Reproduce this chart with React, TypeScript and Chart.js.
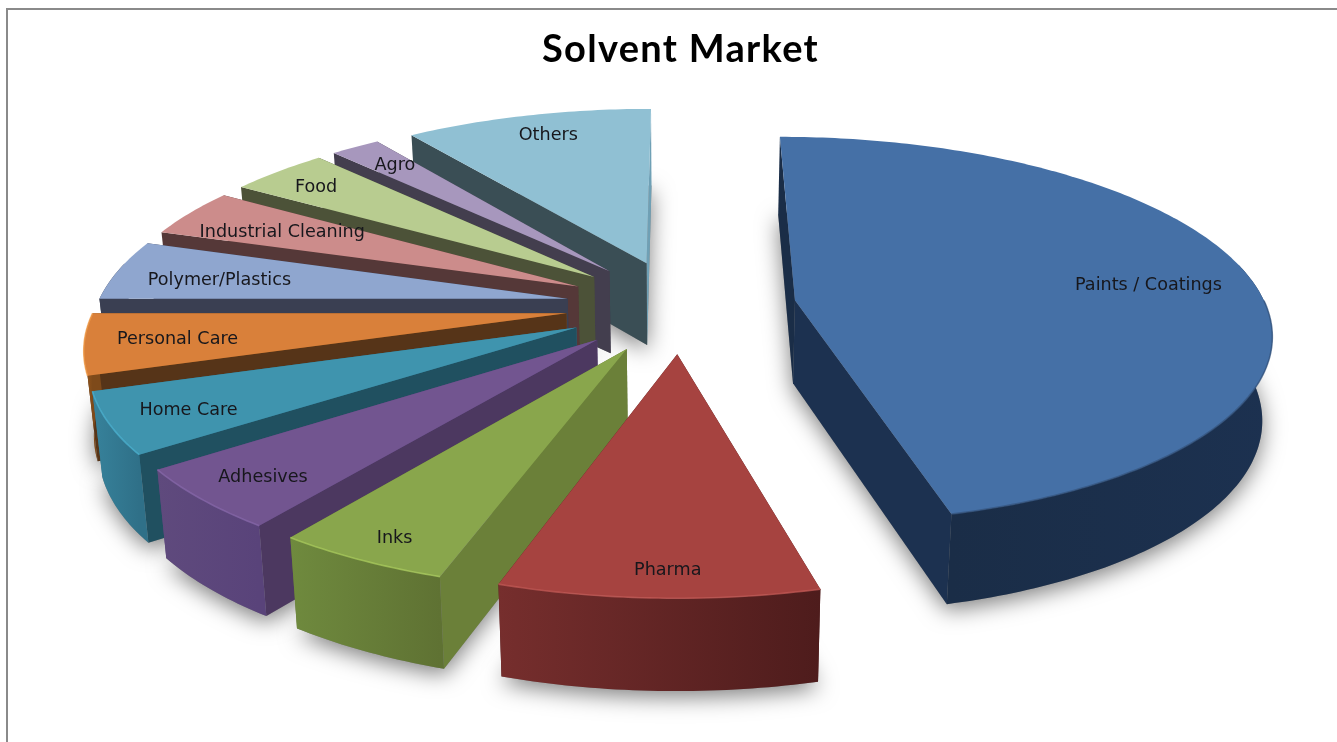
import { useEffect, useRef } from "react";
import { Chart, registerables } from "chart.js";

Chart.register(...registerables);

const categories = ["Paints / Coatings", "Pharma", "Inks", "Adhesives", "Home Care", "Personal Care", "Polymer/Plastics", "Industrial Cleaning", "Food", "Agro", "Others"];
const shares = [46, 9, 5, 5, 5, 5, 5, 4, 4, 2, 10];

const topColors = ["#4570A6", "#A64340", "#89A64C", "#725590", "#3F94AE", "#D9803A", "#8FA6CF", "#CC8C8B", "#B8CC90", "#A797BD", "#90C0D3"];
const cutColors = ["#1A2D47", "#4E1C1C", "#6B8039", "#4C3860", "#205060", "#563418", "#3A3F52", "#553838", "#4C5238", "#433E4E", "#3A4E55"];
const rimLeftColors = ["#1A2D47", "#762E2D", "#6F8A3E", "#5F4A7D", "#37829B", "#9A5A1E", "#3A3F52", "#553838", "#4C5238", "#433E4E", "#6FA0B5"];
const rimRightColors = ["#1C3150", "#4E1C1C", "#5F7233", "#59437A", "#2F7088", "#7E4A1A", "#3A3F52", "#553838", "#4C5238", "#433E4E", "#6FA0B5"];
const edgeColors = ["#34547F", "#C25A56", "#AACB5E", "#8768AA", "#4CB2D0", "#F29C4A", "", "", "", "", ""];

// Where each name sits on its face: share of the radius, and turn from the slice's middle in degrees
const labelDepths = [0.775, 0.89, 0.895, 0.86, 0.84, 0.81, 0.77, 0.754, 0.87, 0.853, 0.866];
const labelTurns = [0, -0.8, -0.3, 0, 0, 0.5, -0.3, 0.3, 0, 1.1, 1.1];

// Perspective of the pie's top plane
const CENTER_X = 681;
const CENTER_Y = 306;
const RADIUS_X = 471;
const VANISH_RANGE = 1242;
const TILT = 0.153;
const EXPLODE = 0.245;
const BOTTOM_SHRINK = 0.983;

type Pt = { x: number; y: number };

const project = (u: number, v: number): Pt => {
  const q = TILT * v;
  const w = 1 - q;
  return { x: CENTER_X + (RADIUS_X * u) / w, y: CENTER_Y + (VANISH_RANGE * q) / w };
};

// Same point on the underside of the slab
const drop = (p: Pt): Pt => ({
  x: CENTER_X + (p.x - CENTER_X) * BOTTOM_SHRINK,
  y: p.y + 83 + 0.033 * (p.y - 300),
});

const tracePath = (ctx: CanvasRenderingContext2D, pts: Pt[]) => {
  ctx.beginPath();
  pts.forEach((p, i) => (i ? ctx.lineTo(p.x, p.y) : ctx.moveTo(p.x, p.y)));
  ctx.closePath();
};

const sliceGeometry = (arc: any) => {
  const a0 = arc.startAngle + Math.PI / 2;
  const a1 = arc.endAngle + Math.PI / 2;
  const mid = (a0 + a1) / 2;
  const au = EXPLODE * Math.sin(mid);
  const av = -EXPLODE * Math.cos(mid);
  const steps = Math.max(4, Math.ceil((a1 - a0) / 0.015));
  const angles: number[] = [];
  for (let i = 0; i <= steps; i++) angles.push(a0 + ((a1 - a0) * i) / steps);
  const rim = angles.map((a) => project(au + Math.sin(a), av - Math.cos(a)));
  return { a0, a1, mid, au, av, angles, rim, apex: project(au, av) };
};

const slab3d = {
  id: "slab3d",
  beforeDatasetDraw(chart: any) {
    const ctx: any = chart.ctx;
    ctx.letterSpacing = "0px";
    const arcs = chart.getDatasetMeta(0).data;
    const slices = arcs.map((arc: any, i: number) => ({ i, ...sliceGeometry(arc) }));

    // Soft ground shadow from each slice's underside
    ctx.save();
    ctx.shadowColor = "rgba(0,0,0,0.5)";
    ctx.shadowBlur = 22;
    ctx.shadowOffsetY = 6;
    ctx.fillStyle = "#888";
    slices.forEach((s: any) => {
      tracePath(ctx, [drop(s.apex), ...s.rim.map(drop)]);
      ctx.fill();
    });
    ctx.restore();

    // Back slices first so nearer slices cover them
    const order = [...slices].sort((a: any, b: any) => a.apex.y - b.apex.y);
    order.forEach((s: any) => {
      const first = s.rim[0];
      const last = s.rim[s.rim.length - 1];
      ctx.fillStyle = rimRightColors[s.i];
      tracePath(ctx, [s.apex, last, drop(last), drop(s.apex)]);
      ctx.fill();
      ctx.fillStyle = cutColors[s.i];
      tracePath(ctx, [s.apex, first, drop(first), drop(s.apex)]);
      ctx.fill();

      // The outer wall only shows on the side facing the viewer
      const front = s.rim.filter((_: Pt, k: number) => -Math.cos(s.angles[k]) > -0.2);
      if (front.length > 1) {
        const xs = front.map((p: Pt) => p.x);
        const grad = ctx.createLinearGradient(Math.min(...xs), 0, Math.max(...xs), 0);
        grad.addColorStop(0, rimLeftColors[s.i]);
        grad.addColorStop(1, rimRightColors[s.i]);
        ctx.fillStyle = grad;
        tracePath(ctx, [...front, ...[...front].reverse().map(drop)]);
        ctx.fill();
      }

      ctx.fillStyle = topColors[s.i];
      tracePath(ctx, [s.apex, ...s.rim]);
      ctx.fill();

      if (edgeColors[s.i]) {
        ctx.save();
        ctx.globalAlpha = 0.75;
        ctx.strokeStyle = edgeColors[s.i];
        ctx.lineWidth = 1.6;
        ctx.beginPath();
        let open = false;
        s.rim.forEach((p: Pt, k: number) => {
          if (-Math.cos(s.angles[k]) < 0) return;
          if (open) ctx.lineTo(p.x, p.y);
          else ctx.moveTo(p.x, p.y);
          open = true;
        });
        ctx.stroke();
        ctx.restore();
      }
    });

    // Category names sit on the top faces
    ctx.font = "17.6px 'DejaVu Sans'";
    ctx.fillStyle = "#17171c";
    ctx.textAlign = "center";
    ctx.textBaseline = "middle";
    slices.forEach((s: any) => {
      const d = labelDepths[s.i];
      const a = s.mid + (labelTurns[s.i] * Math.PI) / 180;
      const p = project(s.au + d * Math.sin(a), s.av - d * Math.cos(a));
      ctx.fillText(categories[s.i], p.x, p.y + 3);
    });
    return false;
  },
};

const frame = {
  id: "frame",
  beforeDraw(chart: any) {
    const { ctx, width, height } = chart;
    ctx.save();
    ctx.fillStyle = "#ffffff";
    ctx.fillRect(0, 0, width, height);
    ctx.strokeStyle = "#8a8a8a";
    ctx.lineWidth = 2;
    ctx.beginPath();
    ctx.moveTo(7, height);
    ctx.lineTo(7, 9);
    ctx.lineTo(width, 9);
    ctx.stroke();
    ctx.restore();
    // Title is set a little wider than the font's natural spacing
    ctx.letterSpacing = "1.3px";
  },
};

export default function App() {
  const ref = useRef<HTMLCanvasElement>(null);
  useEffect(() => {
    const chart = new Chart(ref.current!, {
      type: "pie",
      data: {
        labels: categories,
        datasets: [{ data: shares, backgroundColor: topColors, borderWidth: 0 }],
      },
      options: {
        animation: false,
        responsive: false,
        layout: { padding: { left: 24, top: 0 } },
        plugins: {
          legend: { display: false },
          tooltip: { enabled: false },
          title: {
            display: true,
            text: "Solvent Market",
            color: "#000000",
            font: { family: "Lato", weight: "bold", size: 38 },
            padding: { top: 27, bottom: 10 },
          },
        },
      },
      plugins: [frame, slab3d],
    });
    return () => chart.destroy();
  }, []);
  return (
    <div style={{ position: "fixed", left: 0, top: 0 }}>
      <canvas ref={ref} width={1337} height={742} style={{ display: "block" }} />
    </div>
  );
}
